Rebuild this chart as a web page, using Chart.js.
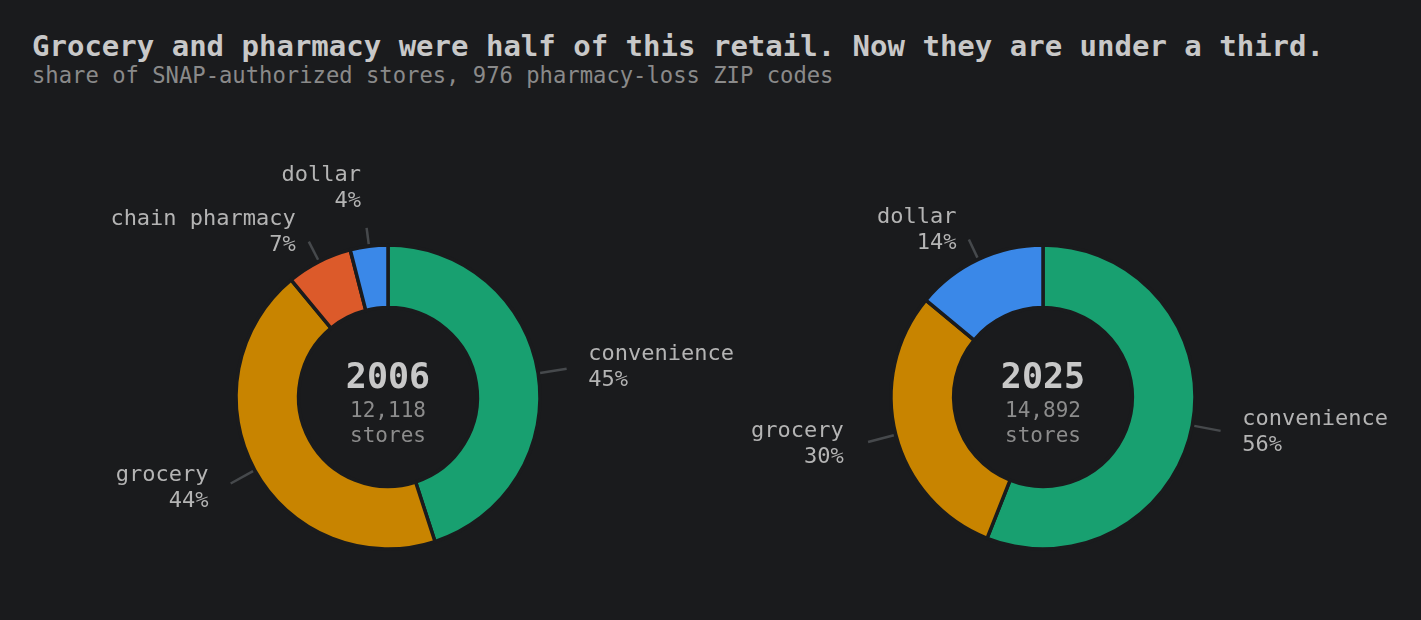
<!DOCTYPE html>
<html>
<head>
<meta charset="utf-8">
<script src="https://cdn.jsdelivr.net/npm/chart.js@4.4.1/dist/chart.umd.min.js"></script>
<style>
  html, body { margin: 0; padding: 0; background: #1a1b1d; }
  body { width: 1421px; height: 620px; position: relative; overflow: hidden; font-family: "DejaVu Sans Mono", monospace; }
  #title { position: absolute; left: 32px; top: 29px; font-size: 29px; font-weight: bold; color: #c8c8c8; white-space: nowrap; }
  #subtitle { position: absolute; left: 32px; top: 62px; font-size: 22.2px; color: #8a8a8a; white-space: nowrap; }
  .wrap { position: absolute; top: 100px; height: 520px; }
  #w1 { left: 0; width: 740px; }
  #w2 { left: 740px; width: 681px; }
</style>
</head>
<body>
<div id="title">Grocery and pharmacy were half of this retail. Now they are under a third.</div>
<div id="subtitle">share of SNAP-authorized stores, 976 pharmacy-loss ZIP codes</div>
<div class="wrap" id="w1"><canvas id="chart-1"></canvas></div>
<div class="wrap" id="w2"><canvas id="chart-2"></canvas></div>
<script>
const labels2006 = ["convenience", "grocery", "chain pharmacy", "dollar"];
const share2006 = [45, 44, 7, 4];
const labels2025 = ["convenience", "grocery", "dollar"];
const share2025 = [56, 30, 14];
const stores2006 = 12118;
const stores2025 = 14892;

const colors = {
  "convenience": "#18a070",
  "grocery": "#c88400",
  "chain pharmacy": "#dc5a2a",
  "dollar": "#3a88e8",
};
const bg = "#1a1b1d";
const font = "'DejaVu Sans Mono', monospace";

// labels outside the ring with short leader lines, plus year/count in the hole
const ringLabels = {
  id: "ringLabels",
  afterDraw(chart, args, opts) {
    const ctx = chart.ctx;
    const arcs = chart.getDatasetMeta(0).data;
    const data = chart.data.datasets[0].data;
    const items = arcs.map((arc, i) => {
      const a = (arc.startAngle + arc.endAngle) / 2;
      const dx = Math.cos(a), dy = Math.sin(a);
      const R = arc.outerRadius - 1;
      const r1 = R + 3, r2 = R + 18 + 12 * Math.abs(dx);
      const ex = arc.x + dx * r2, ey = arc.y + dy * r2;
      return {
        cx: arc.x, cy: arc.y, dx, dy, r1, r2, ex, ey,
        side: dx < 0 ? -1 : 1,
        tx: ex + (dx < 0 ? -1 : 1) * 22 * Math.abs(dx) - (dx < 0 ? 3 : 0),
        ty: ey + dy * 10,
        name: chart.data.labels[i],
        pct: Math.round(data[i]) + "%",
      };
    });
    // push overlapping labels apart on each side
    [-1, 1].forEach(s => {
      const side = items.filter(it => it.side === s).sort((p, q) => p.ty - q.ty);
      for (let i = side.length - 2; i >= 0; i--) {
        if (side[i].ty > side[i + 1].ty - 44) side[i].ty = side[i + 1].ty - 44;
      }
    });
    ctx.save();
    items.forEach(it => {
      ctx.strokeStyle = "#46494c";
      ctx.lineWidth = 2.5;
      ctx.beginPath();
      ctx.moveTo(it.cx + it.dx * it.r1, it.cy + it.dy * it.r1);
      ctx.lineTo(it.ex, it.ey);
      ctx.stroke();
      ctx.fillStyle = "#b4b4b4";
      ctx.font = "22px " + font;
      ctx.textAlign = it.side < 0 ? "right" : "left";
      ctx.textBaseline = "middle";
      ctx.fillText(it.name, it.tx, it.ty - 13);
      ctx.fillText(it.pct, it.tx, it.ty + 13);
    });
    const c = arcs[0];
    ctx.textAlign = "center";
    ctx.textBaseline = "middle";
    ctx.fillStyle = "#c8c8c8";
    ctx.font = "bold 35px " + font;
    ctx.fillText(opts.year, c.x, c.y - 18);
    ctx.fillStyle = "#8c8c8c";
    ctx.font = "21px " + font;
    ctx.fillText(opts.count.toLocaleString("en-US"), c.x, c.y + 15);
    ctx.fillText("stores", c.x, c.y + 40);
    ctx.restore();
  }
};

function makeRing(id, labels, values, year, count, padding) {
  const ctx = document.getElementById(id).getContext("2d");
  return new Chart(ctx, {
    type: "doughnut",
    data: {
      labels: labels,
      datasets: [
        {
          data: values,
          backgroundColor: labels.map(l => colors[l]),
          borderColor: bg,
          borderWidth: 3.5,
        },
      ],
    },
    options: {
      responsive: true,
      maintainAspectRatio: false,
      animation: false,
      radius: 152,
      cutout: "58.8%",
      layout: { padding: padding },
      events: [],
      plugins: {
        legend: { display: false },
        tooltip: { enabled: false },
        ringLabels: { year: year, count: count },
      },
    },
    plugins: [ringLabels],
  });
}

const myChart1 = makeRing("chart-1", labels2006, share2006, "2006", stores2006, { left: 36, right: 0, top: 74, bottom: 0 });
const myChart2 = makeRing("chart-2", labels2025, share2025, "2025", stores2025, { left: 0, right: 75, top: 74, bottom: 0 });
</script>
</body>
</html>
